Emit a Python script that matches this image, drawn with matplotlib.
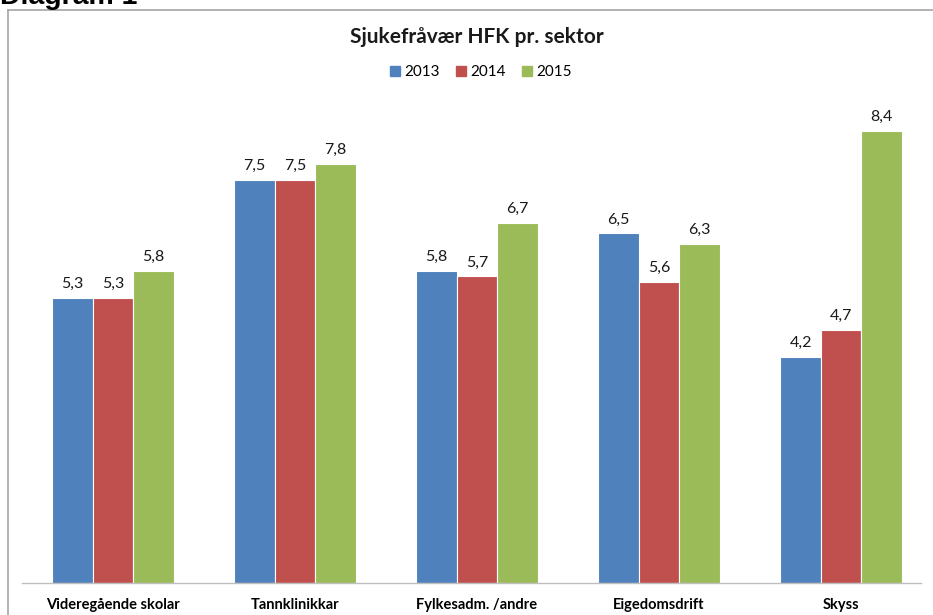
import matplotlib
matplotlib.use("Agg")
import matplotlib.pyplot as plt
import numpy as np
from matplotlib.lines import Line2D

categories = ["Videregående skolar", "Tannklinikkar", "Fylkesadm. /andre", "Eigedomsdrift", "Skyss"]
years = ["2013", "2014", "2015"]
v2013 = [5.3, 7.5, 5.8, 6.5, 4.2]
v2014 = [5.3, 7.5, 5.7, 5.6, 4.7]
v2015 = [5.8, 7.8, 6.7, 6.3, 8.4]
series = [v2013, v2014, v2015]
colors = ["#4F81BD", "#C0504D", "#9BBB59"]

W, H = 933, 615
fig = plt.figure(figsize=(W / 100, H / 100), dpi=100)
fig.patch.set_facecolor("white")

FONT = "Lato"

# axes area in pixel coords
ax_left, ax_right, ax_bottom, ax_top = 22, 932, 583, 99
ax = fig.add_axes([ax_left / W, 1 - ax_bottom / H, (ax_right - ax_left) / W, (ax_bottom - ax_top) / H])

x = np.arange(len(categories))
bw = 0.222
for i, (vals, c) in enumerate(zip(series, colors)):
    pos = x + (i - 1) * bw
    ax.bar(pos, vals, width=bw, color=c, edgecolor="white", linewidth=0.8, label=years[i], zorder=2)
    for p, v in zip(pos, vals):
        ax.annotate(f"{v:.1f}".replace(".", ","), (p, v), xytext=(0, 5), textcoords="offset points",
                    ha="center", va="bottom", fontsize=11.5, family=FONT, color="#1a1a1a")

ax.set_xlim(-0.5, len(categories) - 0.5)
ax.set_ylim(0, 9)
ax.set_yticks([])
ax.set_xticks(x)
ax.set_xticklabels(categories, fontsize=10.5, fontweight="bold", family=FONT)
ax.tick_params(axis="x", length=0, pad=11)
for s in ["top", "right", "left"]:
    ax.spines[s].set_visible(False)
ax.spines["bottom"].set_color("#bfbfbf")
ax.spines["bottom"].set_linewidth(1.0)
ax.spines["bottom"].set_bounds(-0.5, -0.5 + (921 - ax_left) / ((ax_right - ax_left) / len(categories)))

# title and legend
fig.text(477 / W, 1 - 37 / H, "Sjukefråvær HFK pr. sektor", ha="center", va="center",
         fontsize=15, fontweight="bold", family=FONT, color="#1a1a1a")
handles = [Line2D([0], [0], marker="s", linestyle="none", markersize=7.5, markerfacecolor=c,
                  markeredgecolor=c) for c in colors]
fig.legend(handles, years, loc="center", bbox_to_anchor=(480 / W, 1 - 72 / H), ncol=3, frameon=False,
           prop={"family": FONT, "size": 11}, handletextpad=0.2, columnspacing=1.0,
           handlelength=0.8)

# outer frame (left and top edges visible)
fig.add_artist(Line2D([8 / W, 8 / W], [0, 1 - 10 / H], transform=fig.transFigure, color="#a6a6a6", linewidth=1.2))
fig.add_artist(Line2D([8 / W, 1], [1 - 10 / H, 1 - 10 / H], transform=fig.transFigure, color="#a6a6a6", linewidth=1.2))

# cut-off heading above the chart
fig.text(0 / W, 1 - 3.5 / H, "Diagram 1", ha="left", va="baseline", fontsize=20.5, fontweight="bold",
         family="Liberation Sans", color="black")

fig.savefig("out.png", dpi=100, facecolor="white")
